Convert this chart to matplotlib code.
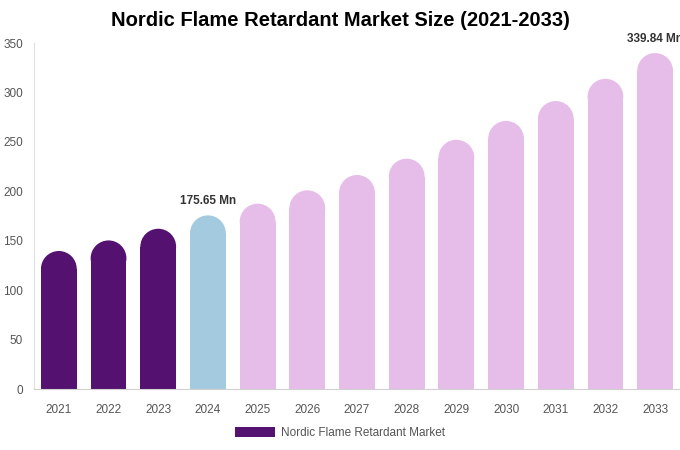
import numpy as np
import matplotlib
matplotlib.use("Agg")
import matplotlib.pyplot as plt
from matplotlib.patches import Rectangle, Ellipse, Patch

plt.rcParams['font.family'] = ['Liberation Sans', 'DejaVu Sans']

years = ["2021", "2022", "2023", "2024", "2025", "2026", "2027",
         "2028", "2029", "2030", "2031", "2032", "2033"]
values = [139.6, 150.3, 162.1, 175.65, 187.5, 201.0, 216.5,
          233.0, 252.1, 271.2, 291.3, 313.8, 339.84]
labels = {3: "175.65 Mn", 12: "339.84 Mn"}
series_name = "Nordic Flame Retardant Market"

c_hist = "#541170"
c_base = "#A4CADF"
c_fore = "#E6BDE9"
colors = [c_hist] * 3 + [c_base] + [c_fore] * 9

W, H = 6.8, 4.5
fig = plt.figure(figsize=(W, H), dpi=100)
ax_l, ax_b = 34 / 680, 1 - 389 / 450
ax_w, ax_h = (680 - 34) / 680, (389 - 43) / 450
ax = fig.add_axes([ax_l, ax_b, ax_w, ax_h])
ymax = 350
ax.set_xlim(-0.5, len(years) - 0.5)
ax.set_ylim(0, ymax)

bw = 0.72
# radius of the round top in data units (x and y differ in scale)
px_per_x = ax_w * W * 100 / len(years)
px_per_y = ax_h * H * 100 / ymax
r_px = bw * px_per_x / 2
ry = r_px / px_per_y

for i, (v, c) in enumerate(zip(values, colors)):
    ax.add_patch(Rectangle((i - bw / 2, 0), bw, v - ry, facecolor=c,
                           edgecolor="none", zorder=2))
    ax.add_patch(Ellipse((i, v - ry), bw, 2 * ry, facecolor=c,
                         edgecolor="none", zorder=2))
    if i in labels:
        ax.text(i, v + 8, labels[i], ha="center", va="bottom", fontsize=8.5,
                fontweight="bold", color="#333333", zorder=3)

ax.set_xticks(range(len(years)))
ax.set_xticklabels(years)
ax.set_yticks(range(0, 351, 50))
ax.tick_params(axis="both", length=0, labelsize=8.5, labelcolor="#555555")
ax.tick_params(axis="x", pad=11)
ax.tick_params(axis="y", pad=8)
for s in ["top", "right"]:
    ax.spines[s].set_visible(False)
ax.spines["left"].set_color("#e0e0e0")
ax.spines["bottom"].set_color("#d0d0d0")

fig.text(0.5, 1 - 21 / 450, "Nordic Flame Retardant Market Size (2021-2033)",
         ha="center", va="center", fontsize=14.5, fontweight="bold", color="#000000")

fig.legend(handles=[Patch(facecolor=c_hist, label=series_name)],
           loc="center", bbox_to_anchor=(0.5, 1 - 433 / 450), frameon=False,
           fontsize=8.5, labelcolor="#555555", handlelength=3.4, handleheight=1.0,
           handletextpad=0.5)

fig.savefig("out.png", dpi=100, facecolor="white")
